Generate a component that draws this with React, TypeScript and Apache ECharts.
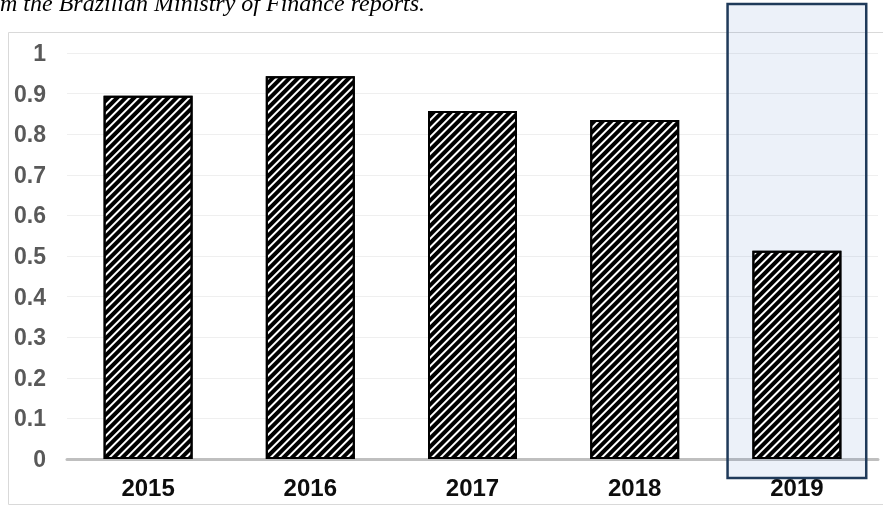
import React, { useEffect, useRef } from "react";
import * as echarts from "echarts";

const categories = ["2015", "2016", "2017", "2018", "2019"];
const values = [0.895, 0.943, 0.857, 0.835, 0.513];
const highlightCategory = "2019";
const noteText = "m the Brazilian Ministry of Finance reports.";

export default function App() {
  const ref = useRef<HTMLDivElement>(null);
  useEffect(() => {
    const chart = echarts.init(ref.current!, null, { renderer: "svg" });
    const labelFont = "'Liberation Sans', Arial, sans-serif";
    chart.setOption({
      animation: false,
      grid: { left: 67, right: 5, top: 53, bottom: 48 },
      xAxis: {
        type: "category",
        data: categories,
        axisLine: { show: true, lineStyle: { color: "#BFBFBF", width: 3 } },
        axisTick: { show: false },
        axisLabel: {
          color: "#0D0D0D",
          fontSize: 24,
          fontWeight: "bold",
          fontFamily: labelFont,
          margin: 16,
        },
      },
      yAxis: {
        type: "value",
        min: 0,
        max: 1,
        interval: 0.1,
        axisLine: { show: false },
        axisTick: { show: false },
        splitLine: { lineStyle: { color: "#EFEFEF", width: 1 } },
        axisLabel: {
          color: "#595959",
          fontSize: 23,
          fontWeight: "bold",
          fontFamily: labelFont,
          margin: 21,
        },
      },
      series: [
        {
          type: "bar",
          z: 5,
          data: values,
          barWidth: 89,
          itemStyle: {
            color: "#FFFFFF",
            borderColor: "#000000",
            borderWidth: 2,
            decal: {
              symbol: "rect",
              symbolSize: 1,
              dashArrayX: [1, 0],
              dashArrayY: [3.2, 1.8],
              rotation: -Math.PI / 4,
              color: "#000000",
            },
          },
        },
      ],
    });

    const cx = chart.convertToPixel({ xAxisIndex: 0 }, highlightCategory) as number;
    const c0 = chart.convertToPixel({ xAxisIndex: 0 }, categories[0]) as number;
    const c1 = chart.convertToPixel({ xAxisIndex: 0 }, categories[1]) as number;
    const y0 = chart.convertToPixel({ yAxisIndex: 0 }, 0) as number;
    const y1 = chart.convertToPixel({ yAxisIndex: 0 }, 1) as number;
    const band = c1 - c0;
    const boxW = band * 0.855;
    const box = {
      x: cx - boxW / 2,
      y: y1 - 49,
      width: boxW,
      height: y0 - y1 + 49 + 19,
    };

    chart.setOption({
      graphic: [
        {
          type: "rect",
          z: -10,
          silent: true,
          shape: { x: 8.5, y: 32.5, width: 900, height: 472 },
          style: { fill: "none", stroke: "#D9D9D9", lineWidth: 1 },
        },
        {
          type: "text",
          x: 0,
          y: 3,
          silent: true,
          style: {
            text: noteText,
            fill: "#000000",
            font: "italic 24px 'Liberation Serif', 'Times New Roman', serif",
            verticalAlign: "middle",
          },
        },
        {
          type: "rect",
          z: 1,
          silent: true,
          shape: box,
          style: { fill: "rgba(68,114,196,0.1)", stroke: "none" },
        },
        {
          type: "rect",
          z: 100,
          silent: true,
          shape: box,
          style: { fill: "none", stroke: "#1F3A5A", lineWidth: 2.5 },
        },
      ],
    });

    return () => chart.dispose();
  }, []);
  return (
    <div
      ref={ref}
      style={{ position: "fixed", left: 0, top: 0, width: 883, height: 507 }}
    />
  );
}
